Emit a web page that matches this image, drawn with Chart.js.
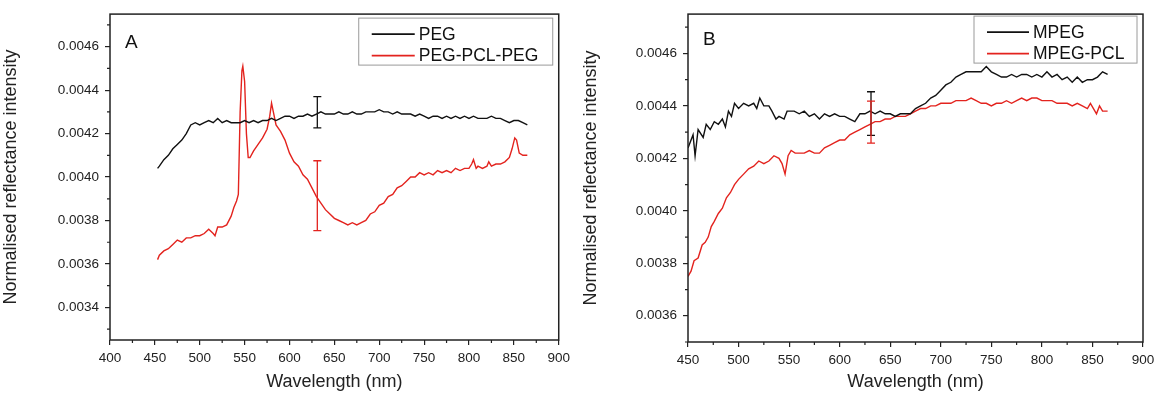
<!DOCTYPE html>
<html>
<head>
<meta charset="utf-8">
<script src="https://cdn.jsdelivr.net/npm/chart.js@4.4.1/dist/chart.umd.min.js"></script>
<style>
body { margin: 0; background: #fff; width: 1166px; height: 394px; overflow: hidden; position: relative; }
.panel { position: absolute; top: 0; height: 394px; }
#wrapA { left: 0; width: 575px; }
#wrapB { left: 580px; width: 586px; }
</style>
</head>
<body>
<div class="panel" id="wrapA"><canvas id="chartA" width="575" height="394"></canvas></div>
<div class="panel" id="wrapB"><canvas id="chartB" width="586" height="394"></canvas></div>
<script>
// ---- panel A : PEG / PEG-PCL-PEG ----
var pegX = [453,455,460,465,470,475,480,485,490,495,500,505,510,515,520,525,530,535,540,545,550,555,560,565,570,575,580,585,590,595,600,605,610,615,620,625,630,635,640,645,650,655,660,665,670,675,680,685,690,695,700,705,710,715,720,725,730,735,740,745,750,755,760,765,770,775,780,785,790,795,800,805,810,815,820,825,830,835,840,845,850,855,860,865];
var pegY = [0.00404,0.00405,0.00408,0.00410,0.00413,0.00415,0.00417,0.00420,0.00424,0.00425,0.00424,0.00425,0.00426,0.00425,0.00427,0.00425,0.00426,0.00425,0.00425,0.00425,0.00426,0.00425,0.00426,0.00425,0.00426,0.00426,0.00427,0.00426,0.00427,0.00428,0.00428,0.00427,0.00428,0.00428,0.00429,0.00428,0.00429,0.00430,0.00429,0.00429,0.00429,0.00430,0.00429,0.00429,0.00430,0.00429,0.00429,0.00430,0.00430,0.00430,0.00431,0.00430,0.00430,0.00429,0.00430,0.00429,0.00429,0.00429,0.00428,0.00429,0.00428,0.00427,0.00428,0.00428,0.00427,0.00428,0.00427,0.00428,0.00427,0.00428,0.00427,0.00428,0.00427,0.00427,0.00427,0.00428,0.00427,0.00427,0.00426,0.00425,0.00426,0.00426,0.00425,0.00424];

var pclX = [453,455,460,465,470,475,480,485,490,495,500,505,510,515,517,520,525,530,535,538,541,543,545,547,548,550,552,554,556,560,565,570,575,578,580,582,585,590,595,600,605,610,615,620,625,630,635,640,645,650,655,660,665,670,675,680,685,690,695,700,705,710,715,720,725,730,735,740,745,750,755,760,765,770,775,780,785,790,795,800,803,805,808,810,815,820,822,825,830,835,840,845,848,851,853,856,860,865];
var pclY = [0.00362,0.00364,0.00366,0.00367,0.00369,0.00371,0.00370,0.00372,0.00372,0.00373,0.00373,0.00374,0.00376,0.00374,0.00373,0.00377,0.00377,0.00378,0.00382,0.00386,0.00389,0.00392,0.00430,0.00449,0.00451,0.00444,0.00420,0.00409,0.00409,0.00412,0.00415,0.00418,0.00422,0.00428,0.00434,0.00430,0.00424,0.00421,0.00417,0.00411,0.00407,0.00405,0.00401,0.00399,0.00395,0.00391,0.00388,0.00385,0.00383,0.00381,0.00380,0.00379,0.00378,0.00379,0.00378,0.00379,0.00380,0.00383,0.00384,0.00387,0.00388,0.00391,0.00392,0.00395,0.00396,0.00398,0.00400,0.00400,0.00402,0.00401,0.00402,0.00401,0.00403,0.00402,0.00403,0.00402,0.00404,0.00403,0.00404,0.00404,0.00406,0.00408,0.00404,0.00405,0.00404,0.00405,0.00407,0.00405,0.00406,0.00406,0.00407,0.00409,0.00413,0.00418,0.00417,0.00411,0.00410,0.00410];

var errXA = [631, 631];
var errYA = [0.004298, 0.003914];
var errHalfA = [0.000072, 0.000161];

var xTicksA = [400,450,500,550,600,650,700,750,800,850,900];
var yTicksA = [0.0034,0.0036,0.0038,0.0040,0.0042,0.0044,0.0046];

// ---- panel B : MPEG / MPEG-PCL ----
var mpegX = [450,455,457,460,465,468,472,476,480,484,487,490,493,496,500,505,510,515,518,521,525,530,533,537,540,545,548,555,560,565,570,575,580,585,590,595,600,605,610,615,620,625,630,635,640,645,650,655,660,665,670,675,680,685,690,695,700,705,710,715,720,725,730,735,740,745,750,755,760,765,770,775,780,785,790,795,800,805,810,815,820,825,830,835,840,845,850,855,860,865];
var mpegY = [0.00424,0.00429,0.00421,0.00431,0.00428,0.00433,0.00431,0.00434,0.00433,0.00435,0.00432,0.00438,0.00436,0.00441,0.00439,0.00441,0.00440,0.00441,0.00439,0.00443,0.00440,0.00440,0.00438,0.00435,0.00436,0.00435,0.00438,0.00438,0.00437,0.00438,0.00436,0.00437,0.00435,0.00437,0.00436,0.00437,0.00436,0.00436,0.00435,0.00434,0.00437,0.00437,0.00438,0.00437,0.00438,0.00437,0.00437,0.00436,0.00437,0.00437,0.00437,0.00439,0.00440,0.00441,0.00443,0.00444,0.00446,0.00448,0.00449,0.00451,0.00452,0.00453,0.00453,0.00453,0.00453,0.00455,0.00453,0.00452,0.00451,0.00451,0.00452,0.00451,0.00452,0.00452,0.00451,0.00452,0.00451,0.00453,0.00451,0.00452,0.00450,0.00451,0.00449,0.00451,0.00449,0.00450,0.00450,0.00451,0.00453,0.00452];

var mpclX = [450,453,456,460,464,467,470,473,476,480,484,488,492,496,500,505,510,515,520,525,530,535,540,543,546,549,552,556,560,565,570,575,580,585,590,595,600,605,610,615,620,625,630,635,640,645,650,655,660,665,670,675,680,685,690,695,700,705,710,715,720,725,730,735,740,745,750,755,760,765,770,775,780,785,790,795,800,805,810,815,820,825,830,835,840,845,848,851,854,857,860,865];
var mpclY = [0.00375,0.00377,0.00381,0.00382,0.00387,0.00388,0.00390,0.00394,0.00396,0.00399,0.00401,0.00405,0.00407,0.00410,0.00412,0.00414,0.00416,0.00417,0.00419,0.00418,0.00419,0.00421,0.00420,0.00418,0.00414,0.00421,0.00423,0.00422,0.00422,0.00422,0.00423,0.00422,0.00422,0.00424,0.00425,0.00426,0.00427,0.00427,0.00429,0.00430,0.00431,0.00432,0.00433,0.00434,0.00434,0.00435,0.00435,0.00436,0.00436,0.00436,0.00437,0.00438,0.00439,0.00439,0.00440,0.00440,0.00441,0.00441,0.00441,0.00442,0.00442,0.00442,0.00443,0.00442,0.00441,0.00441,0.00440,0.00441,0.00441,0.00442,0.00441,0.00442,0.00443,0.00442,0.00443,0.00443,0.00442,0.00442,0.00442,0.00441,0.00441,0.00441,0.00440,0.00441,0.00440,0.00439,0.00441,0.00439,0.00437,0.00440,0.00438,0.00438];

var errXB = [631, 631];
var errYB = [0.004371, 0.004338];
var errHalfB = [0.000083, 0.00008];

var xTicksB = [450,500,550,600,650,700,750,800,850,900];
var yTicksB = [0.0036,0.0038,0.0040,0.0042,0.0044,0.0046];

var BLACK = '#111111';
var RED = '#e3231e';
var FONT = "'Liberation Sans', Arial, sans-serif";

function pts(xs, ys) {
    return xs.map(function (x, i) { return { x: x, y: ys[i] }; });
}

function framePlugin(p) {
    return {
        id: 'frame',
        afterDatasetsDraw: function (chart) {
            var ctx = chart.ctx;
            var xs = chart.scales.x, ys = chart.scales.y;
            ctx.save();
            ctx.lineWidth = 1.3;
            p.errX.forEach(function (ex, i) {
                var px = xs.getPixelForValue(ex);
                var top = ys.getPixelForValue(p.errY[i] + p.errHalf[i]);
                var bot = ys.getPixelForValue(p.errY[i] - p.errHalf[i]);
                ctx.strokeStyle = p.errColors[i];
                ctx.beginPath();
                ctx.moveTo(px, top); ctx.lineTo(px, bot);
                ctx.moveTo(px - 4, top); ctx.lineTo(px + 4, top);
                ctx.moveTo(px - 4, bot); ctx.lineTo(px + 4, bot);
                ctx.stroke();
            });
            ctx.restore();
        },
        afterDraw: function (chart) {
            var ctx = chart.ctx, a = chart.chartArea;
            var xs = chart.scales.x, ys = chart.scales.y;
            ctx.save();
            // minor ticks
            ctx.strokeStyle = '#222';
            ctx.lineWidth = 1.2;
            ctx.beginPath();
            [xs, ys].forEach(function (sc) {
                var vals = sc.ticks.map(function (t) { return t.value; });
                var step = vals[1] - vals[0];
                for (var v = vals[0] - step / 2; v <= sc.max + 1e-12; v += step) {
                    if (v < sc.min - 1e-12) continue;
                    if (sc === xs) {
                        var px = xs.getPixelForValue(v);
                        ctx.moveTo(px, a.bottom); ctx.lineTo(px, a.bottom + 3);
                    } else {
                        var py = ys.getPixelForValue(v);
                        ctx.moveTo(a.left - 3, py); ctx.lineTo(a.left, py);
                    }
                }
            });
            ctx.stroke();
            // box
            ctx.lineWidth = 1.5;
            ctx.strokeStyle = '#222';
            ctx.strokeRect(a.left, a.top, a.right - a.left, a.bottom - a.top);
            // panel letter
            ctx.fillStyle = '#111';
            ctx.font = '19px ' + FONT;
            ctx.textBaseline = 'alphabetic';
            ctx.fillText(p.letter, a.left + 15, a.top + p.letterDy);
            // legend
            var lx = a.right - p.legW - 6, ly = a.top + p.legDy;
            ctx.lineWidth = 1;
            ctx.strokeStyle = '#9a9a9a';
            ctx.strokeRect(lx, ly, p.legW, 47);
            ctx.font = '17.5px ' + FONT;
            ctx.textBaseline = 'middle';
            chart.data.datasets.forEach(function (ds, i) {
                var ry = ly + 16 + i * 21.5;
                ctx.strokeStyle = ds.borderColor;
                ctx.lineWidth = 1.6;
                ctx.beginPath();
                ctx.moveTo(lx + 13, ry); ctx.lineTo(lx + 13 + p.lineLen, ry);
                ctx.stroke();
                ctx.fillStyle = '#111';
                ctx.fillText(ds.label, lx + 17 + p.lineLen, ry + 1);
            });
            ctx.restore();
        }
    };
}

function makeChart(id, p) {
    return new Chart(document.getElementById(id).getContext('2d'), {
        type: 'line',
        data: {
            datasets: [
                { label: p.names[0], data: pts(p.s1x, p.s1y), borderColor: BLACK, borderWidth: 1.4, pointRadius: 0, tension: 0 },
                { label: p.names[1], data: pts(p.s2x, p.s2y), borderColor: RED, borderWidth: 1.4, pointRadius: 0, tension: 0 }
            ]
        },
        options: {
            responsive: false,
            animation: false,
            devicePixelRatio: 1,
            layout: { padding: { top: p.padTop, right: p.padRight, left: 0, bottom: 0 } },
            plugins: { legend: { display: false }, tooltip: { enabled: false } },
            scales: {
                x: {
                    type: 'linear',
                    min: p.xTicks[0],
                    max: p.xTicks[p.xTicks.length - 1],
                    afterBuildTicks: function (sc) { sc.ticks = p.xTicks.map(function (v) { return { value: v }; }); },
                    afterFit: function (sc) { sc.height = p.xH; },
                    border: { display: false },
                    grid: { drawOnChartArea: false, drawTicks: true, tickLength: 5, color: '#222', lineWidth: 1.2 },
                    ticks: { color: '#222', font: { family: FONT, size: 13.5 }, padding: 5, maxRotation: 0,
                        callback: function (v) { return String(v); } },
                    title: { display: true, text: 'Wavelength (nm)', color: '#222', font: { family: FONT, size: 18 }, padding: { top: 0, bottom: 1 } }
                },
                y: {
                    type: 'linear',
                    min: p.yMin,
                    max: p.yMax,
                    afterBuildTicks: function (sc) { sc.ticks = p.yTicks.map(function (v) { return { value: v }; }); },
                    afterFit: function (sc) { sc.width = p.yW; },
                    border: { display: false },
                    grid: { drawOnChartArea: false, drawTicks: true, tickLength: 5, color: '#222', lineWidth: 1.2 },
                    ticks: { color: '#222', font: { family: FONT, size: 13.5 }, padding: 6,
                        callback: function (v) { return v.toFixed(4); } },
                    title: { display: true, text: 'Normalised reflectance intensity', color: '#222', font: { family: FONT, size: 18 }, padding: { top: 0, bottom: p.yTitlePad } }
                }
            }
        },
        plugins: [framePlugin(p)]
    });
}

makeChart('chartA', {
    names: ['PEG', 'PEG-PCL-PEG'],
    s1x: pegX, s1y: pegY, s2x: pclX, s2y: pclY,
    errX: errXA, errY: errYA, errHalf: errHalfA, errColors: [BLACK, RED],
    xTicks: xTicksA, yTicks: yTicksA, yMin: 0.00325, yMax: 0.00475,
    padTop: 11, padRight: 12, xH: 54, yW: 110, yTitlePad: 7,
    letter: 'A', letterDy: 34, legW: 194, legDy: 4, lineLen: 43
});

makeChart('chartB', {
    names: ['MPEG', 'MPEG-PCL'],
    s1x: mpegX, s1y: mpegY, s2x: mpclX, s2y: mpclY,
    errX: errXB, errY: errYB, errHalf: errHalfB, errColors: [BLACK, RED],
    xTicks: xTicksB, yTicks: yTicksB, yMin: 0.0035, yMax: 0.00475,
    padTop: 13, padRight: 23, xH: 52, yW: 108, yTitlePad: 7,
    letter: 'B', letterDy: 31, legW: 163, legDy: 2, lineLen: 42
});
</script>
</body>
</html>
